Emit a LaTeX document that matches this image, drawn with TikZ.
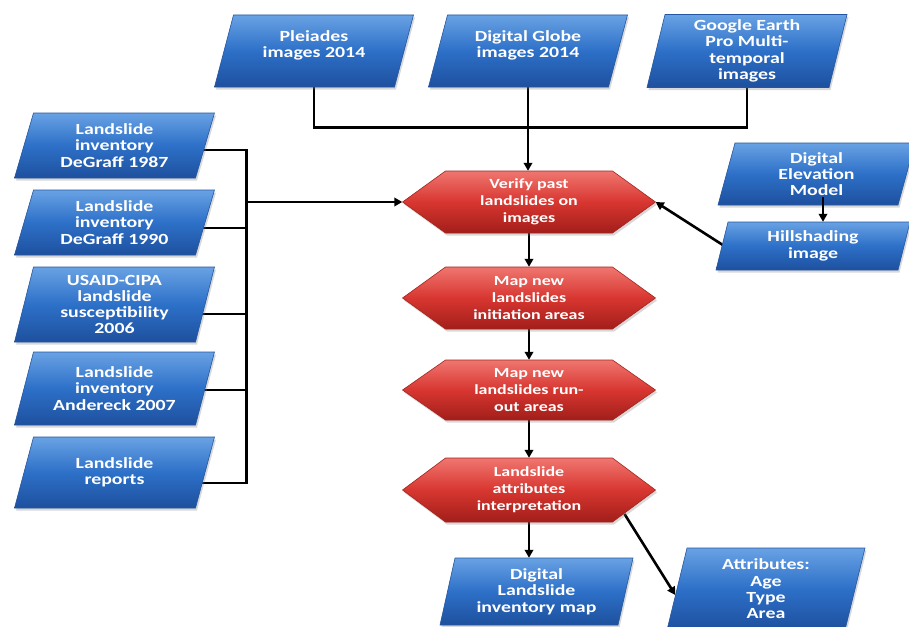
\documentclass[tikz,border=0pt]{standalone}
\usepackage{fontspec}
\newfontfamily\boxfont[FakeStretch=1.28]{Carlito}
\usetikzlibrary{calc,arrows.meta,shadows}
\pgfdeclarelayer{bg}
\pgfsetlayers{bg,main}

\definecolor{bluetop}{RGB}{105,162,228}
\definecolor{bluemid}{RGB}{45,112,200}
\definecolor{bluebot}{RGB}{30,80,158}
\definecolor{blueedge}{RGB}{36,86,160}
\definecolor{redtop}{RGB}{240,118,112}
\definecolor{redmid}{RGB}{216,54,48}
\definecolor{redbot}{RGB}{162,30,26}
\definecolor{rededge}{RGB}{165,36,30}

\tikzset{
  pgramfill/.style={top color=bluetop, bottom color=bluebot, middle color=bluemid,
    draw=blueedge, line width=0.6pt,
    drop shadow={opacity=0.3, shadow xshift=1.5pt, shadow yshift=-2.5pt}},
  hexfill/.style={top color=redtop, bottom color=redbot, middle color=redmid,
    draw=rededge, line width=0.6pt,
    drop shadow={opacity=0.3, shadow xshift=1.5pt, shadow yshift=-2.5pt}},
  bluetext/.style={rectangle, inner sep=0pt, text=white, align=center,
    font=\boxfont\bfseries\fontsize{15.5}{16.3}\selectfont},
  redtext/.style={rectangle, inner sep=0pt, text=white, align=center,
    font=\boxfont\bfseries\fontsize{14}{17}\selectfont},
  conn/.style={line width=2.6pt, black},
  arr/.style={line width=2.6pt, black, -{Triangle[length=8pt,width=8.5pt]}},
}

% #1 name, #2 cx, #3 cy, #4 top width, #5 height, #6 slant, #7 text
\newcommand{\pgram}[7]{%
  \path[pgramfill] ({#2-#4/2-#6/2},{#3+#5/2}) -- ({#2-#4/2+#6/2},{#3-#5/2})
    -- ({#2+#4/2+#6/2},{#3-#5/2}) -- ({#2+#4/2-#6/2},{#3+#5/2}) -- cycle;
  \node[bluetext, minimum width=#4pt, minimum height=#5pt] (#1) at (#2,#3) {#7};
}
% #1 name, #2 cx, #3 cy, #4 height, #5 text
\newcommand{\hexn}[5]{%
  \path[hexfill] ({#2-126.5},#3) -- ({#2-83.5},{#3-#4/2}) -- ({#2+83.5},{#3-#4/2})
    -- ({#2+126.5},#3) -- ({#2+83.5},{#3+#4/2}) -- ({#2-83.5},{#3+#4/2}) -- cycle;
  \node[redtext, minimum width=253pt, minimum height=#4pt] (#1) at (#2,#3) {#5};
}

\begin{document}
\begin{tikzpicture}[x=1pt, y=-1pt]
\useasboundingbox (0,0) rectangle (909,626);

% top row
\pgram{pl}{314}{51}{180}{72}{19}{Pleiades\\images 2014\\[-2pt]}
\pgram{dg}{528}{51}{180}{72}{19}{Digital Globe\\images 2014\\[-2pt]}
\pgram{ge}{747}{51}{182}{73}{18}{Google Earth\\Pro Multi-\\temporal\\images}

% left column
\pgram{l1}{114.5}{145.5}{181}{65}{19}{Landslide\\inventory\\DeGraff 1987}
\pgram{l2}{114.5}{222.5}{181}{65}{19}{Landslide\\inventory\\DeGraff 1990}
\pgram{l3}{114.5}{304.5}{181}{75}{19}{USAID-CIPA\\landslide\\susceptibility\\2006}
\pgram{l4}{114.5}{388.5}{181}{73}{19}{Landslide\\inventory\\Andereck 2007}
\pgram{l5}{114.5}{472.5}{181}{71}{19}{Landslide\\reports}

% right column
\pgram{dem}{816.5}{174}{180}{62}{17}{Digital\\Elevation\\Model}
\pgram{hs}{813}{246}{182}{48}{12}{Hillshading\\image}

% bottom
\pgram{dl}{536.5}{591.5}{178}{67}{15}{Digital\\Landslide\\inventory map}
\pgram{at}{766}{589}{178}{82}{20}{Attributes:\\Age\\Type\\Area}

% red process steps
\hexn{v}{529}{202}{62}{Verify past\\landslides on\\images}
\hexn{mi}{529}{298}{62}{Map new\\landslides\\initiation areas}
\hexn{mr}{529}{390}{60}{Map new\\landslides run-\\out areas}
\hexn{la}{529}{490}{64}{Landslide\\attributes\\interpretation}

\begin{pgfonlayer}{bg}
  \fill[white] (0,0) rectangle (909,626);
  % imagery inputs
  \coordinate (jt) at ($(dg.south)+(0,40)$);
  \draw[conn] (pl.south) |- (jt) -| (ge.south);
  \draw[arr] (dg.south) -- (dg.south |- v.north);
  % left inputs bus
  \coordinate (jl) at ($(v.west)+(-156,0)$);
  \draw[conn] ($(l1.center)+(0,4.5)$) -| (jl);
  \draw[conn] ($(l5.center)+(0,10.5)$) -| (jl);
  \draw[conn] ($(l2.center)+(0,5.5)$) coordinate (a2) -- (a2 -| jl);
  \draw[conn] ($(l3.center)+(0,9.5)$) coordinate (a3) -- (a3 -| jl);
  \draw[conn] ($(l4.center)+(0,1.5)$) coordinate (a4) -- (a4 -| jl);
  \draw[arr] (jl) -- (v.west);
  % right inputs
  \draw[arr] ($(hs.west)+(1,-1)$) -- (v.east);
  % process chain
  \draw[arr] (v.south) -- (mi.north);
  \draw[arr] (mi.south) -- (mr.north);
  \draw[arr] (mr.south) -- (la.north);
  \draw[arr] (la.south) -- (la.south |- dl.north);
  \draw[arr] ($(la.center)+(95.5,24)$) -- ($(at.west)+(-1.5,6)$);
\end{pgfonlayer}
\draw[arr] ($(dem.south)+(6.5,-8)$) -- ($(hs.north)+(10,0)$);
\end{tikzpicture}
\end{document}
